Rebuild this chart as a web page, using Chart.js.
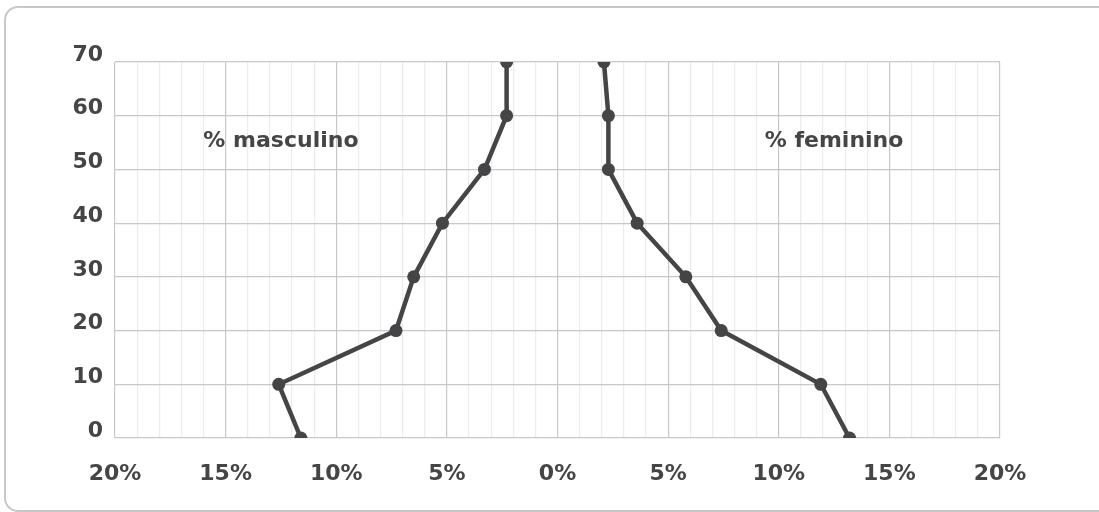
<!DOCTYPE html>
<html>
<head>
<meta charset="utf-8">
<script src="https://cdn.jsdelivr.net/npm/chart.js@4"></script>
<style>
  html, body { margin: 0; padding: 0; background: #fff; overflow: hidden; }
  #wrap { position: relative; width: 1099px; height: 512px; overflow: hidden; }
  #frame {
    position: absolute; left: 4px; top: 6px; width: 1130px; height: 506px;
    border: 2px solid #c8c8c8; border-radius: 14px; box-sizing: border-box;
  }
  #chart { position: absolute; left: 0; top: 0; }
</style>
</head>
<body>
<div id="wrap">
  <div id="frame"></div>
  <canvas id="chart" width="1099" height="512"></canvas>
</div>
<script>
// idades (eixo vertical)
const ages = [0, 10, 20, 30, 40, 50, 60, 70];
// % masculino (negativo = lado esquerdo)
const maleShare = [-11.6, -12.6, -7.3, -6.5, -5.2, -3.3, -2.3, -2.3];
// % feminino
const femaleShare = [13.2, 11.9, 7.4, 5.8, 3.6, 2.3, 2.3, 2.1];
// textos dentro do grafico
const sideLabels = [
    { text: '% masculino', x: -12.5, y: 55.3 },
    { text: '% feminino', x: 12.5, y: 55.3 }
];

const ink = '#454548';
const majorGrid = '#c8c8c8';
const minorGrid = '#ececec';
const fontFamily = "'DejaVu Sans', sans-serif";
const tickFont = { family: fontFamily, size: 22, weight: 'bold' };

function toPoints(xs) {
    return ages.map((a, i) => ({ x: xs[i], y: a }));
}

function lineSet(label, xs) {
    return {
        label: label,
        data: toPoints(xs),
        showLine: true,
        borderColor: ink,
        backgroundColor: ink,
        borderWidth: 4.5,
        pointRadius: 6.5,
        pointHoverRadius: 6.5,
        pointBorderWidth: 0
    };
}

// writes "% masculino" / "% feminino" at data positions
const sideLabelPlugin = {
    id: 'sideLabels',
    afterDatasetsDraw(chart) {
        const { ctx, scales } = chart;
        ctx.save();
        ctx.fillStyle = ink;
        ctx.font = "bold 22px " + fontFamily;
        ctx.textAlign = 'center';
        ctx.textBaseline = 'middle';
        sideLabels.forEach(l => {
            ctx.fillText(l.text, scales.x.getPixelForValue(l.x), scales.y.getPixelForValue(l.y));
        });
        ctx.restore();
    }
};

new Chart(document.getElementById('chart'), {
    type: 'scatter',
    data: {
        datasets: [
            lineSet('% masculino', maleShare),
            lineSet('% feminino', femaleShare)
        ]
    },
    options: {
        responsive: false,
        animation: false,
        layout: { padding: { top: 62, right: 99, left: 0, bottom: 0 } },
        plugins: {
            legend: { display: false },
            tooltip: { enabled: false }
        },
        scales: {
            x: {
                type: 'linear',
                min: -20,
                max: 20,
                afterFit(scale) { scale.height = 74; },
                afterBuildTicks(scale) {
                    const t = [];
                    for (let v = -20; v <= 20; v++) t.push({ value: v });
                    scale.ticks = t;
                },
                border: { display: false },
                grid: {
                    drawTicks: false,
                    lineWidth: 1.2,
                    color: c => (c.tick && c.tick.value % 5 === 0) ? majorGrid : minorGrid
                },
                ticks: {
                    autoSkip: false,
                    maxRotation: 0,
                    padding: 23,
                    color: ink,
                    font: tickFont,
                    callback: v => (v % 5 === 0) ? Math.abs(v) + '%' : ''
                }
            },
            y: {
                min: 0,
                max: 70,
                afterFit(scale) { scale.width = 115; },
                border: { display: false },
                grid: {
                    drawTicks: false,
                    lineWidth: 1.2,
                    color: majorGrid
                },
                ticks: {
                    stepSize: 10,
                    padding: 12,
                    labelOffset: -7,
                    color: ink,
                    font: tickFont
                }
            }
        }
    },
    plugins: [sideLabelPlugin]
});
</script>
</body>
</html>
